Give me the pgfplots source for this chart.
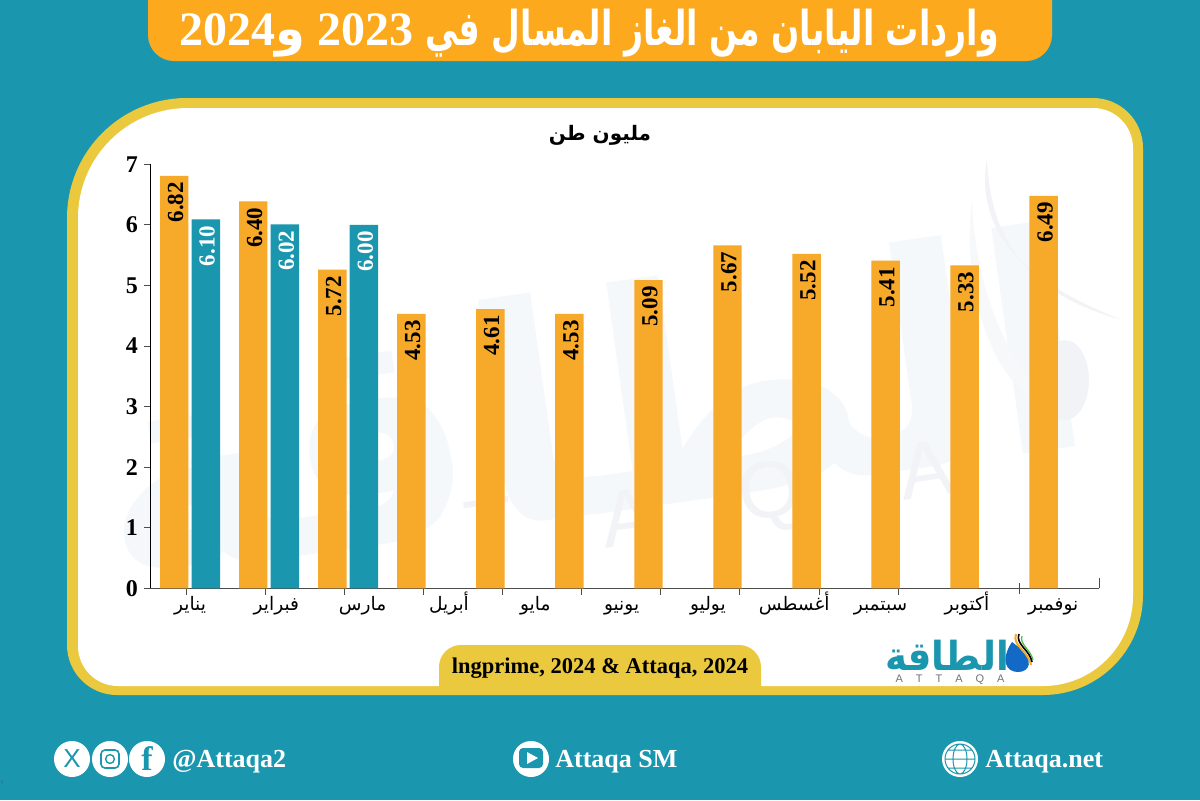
\documentclass[border=0pt]{standalone}
\usepackage{fontspec}
\usepackage{pgfplots}
\usepackage{pgfplotstable}
\pgfplotsset{compat=1.18}
\setmainfont{Liberation Serif}
\newfontfamily\arabicfont[Script=Arabic]{DejaVu Sans}
\newfontfamily\sansfont{Liberation Sans}
\TeXXeTstate=1
\definecolor{teal}{RGB}{26,151,174}
\definecolor{orange}{RGB}{247,169,42}
\definecolor{titleor}{RGB}{253,169,30}
\definecolor{gold}{RGB}{235,201,63}
\definecolor{wm}{RGB}{245,248,251}
\definecolor{wmg}{RGB}{241,243,246}
\newcommand{\ar}[1]{{\arabicfont\beginR #1\endR}}
\newcommand{\fs}[1]{\fontsize{#1}{#1}\selectfont}

% bar height, printed label (March 2023 bar is drawn lower than its label says)
\pgfplotstableread{
k v lab
0 6.81 6.82
1 6.39 6.40
2 5.26 5.72
3 4.53 4.53
4 4.61 4.61
5 4.53 4.53
6 5.09 5.09
7 5.66 5.67
8 5.52 5.52
9 5.41 5.41
10 5.33 5.33
11 6.48 6.49
}\tblA
\pgfplotstableread{
k v lab
0 6.09 6.10
1 6.01 6.02
2 6.00 6.00
}\tblB

\begin{document}
\begin{tikzpicture}[x=0.5pt,y=-0.5pt]
\path[use as bounding box] (0,0) rectangle (1200,800);
\fill[teal] (0,0) rectangle (1200,800);

% title tab
\fill[titleor] (600,0) -- (148,0) [rounded corners=13pt] -- (148,61) -- (1052,61) [sharp corners] -- (1052,0) -- cycle;
\node[text=white,font=\bfseries\fs{24}] at (589,33)
  {2024\ar{و} 2023 \scalebox{0.69}[1]{\ar{واردات اليابان من الغاز المسال في}}};

% panel
\fill[gold] (67,400) [rounded corners=60pt] -- (67,98) [rounded corners=25pt] -- (1143,98) [rounded corners=50pt] -- (1143,695) [rounded corners=25pt] -- (67,695) -- cycle;
\fill[white] (78,400) [rounded corners=55pt] -- (78,108) [rounded corners=20pt] -- (1133,108) [rounded corners=45pt] -- (1133,686) [rounded corners=20pt] -- (78,686) -- cycle;

% watermark
\node[text=wm,font=\bfseries\fs{150},rotate=8] at (590,400) {\ar{الطاقة}};
\foreach \xx/\yy/\ch in {490/527/T,628/518/A,770/497/Q,926/470/A}
  \node[text=wmg,font=\sansfont\fs{40},rotate=8] at (\xx,\yy) {\ch};
\fill[wmg] (987,158) .. controls (975,230) and (1020,280) .. (1122,320) .. controls (1050,300) and (990,260) .. (987,158) -- cycle;
\fill[wmg!60] (972,200) .. controls (975,300) and (1020,400) .. (1080,410) .. controls (1000,420) and (960,300) .. (972,200) -- cycle;
\fill[wmg] (1065,380) ellipse (12pt and 20pt);

% source tab
\fill[gold] (600,690) -- (439,690) [rounded corners=11pt] -- (439,645) -- (761,645) [sharp corners] -- (761,690) -- cycle;
\node[font=\bfseries\fs{11.25}] at (600,668) {lngprime, 2024 \& Attaqa, 2024};

\coordinate (o) at (150.5,588.3);
\begin{axis}[
  at={(o)}, anchor=south west,
  scale only axis,
  width=474.25pt, height=212pt,
  xmin=-0.5, xmax=11.5, ymin=0, ymax=7,
  axis x line=bottom, axis y line=left,
  axis line style={-,line width=0.5pt},
  x axis line style={black!70},
  ybar,
  clip=false,
  ytick={0,1,2,3,4,5,6,7},
  xtick={-0.042,0.958,1.958,2.958,3.958,4.958,5.958,6.958,7.958,8.958},
  xticklabels={},
  tick align=outside,
  major tick length=3.3pt,
  tick style={black!70,line width=0.5pt},
  /pgf/number format/assume math mode=true,
  yticklabel style={font=\bfseries\fs{12},xshift=0.5pt},
  extra x ticks={0,1.092,2.184,3.276,4.368,5.46,6.552,7.644,8.736,9.828,10.92},
  extra x tick style={major tick length=0pt,xticklabel style={font=\arabicfont\fs{9.3},text height=7pt,text depth=3pt,inner sep=0pt,yshift=-4pt}},
  extra x tick labels={\ar{يناير},\ar{فبراير},\ar{مارس},\ar{أبريل},\ar{مايو},\ar{يونيو},\ar{يوليو},\ar{أغسطس},\ar{سبتمبر},\ar{أكتوبر},\ar{نوفمبر}},
  point meta=explicit symbolic,
  nodes near coords,
  every node near coord/.append style={font=\bfseries\fs{11.5},yshift=-3pt,xshift=0.7pt,rotate=90,anchor=east,inner sep=0pt},
]
\addplot[fill=orange,draw=none,bar width=14.2pt,bar shift=-7.9pt] table[x=k,y=v,meta=lab] {\tblA};
\addplot[fill=teal,draw=none,bar width=14.2pt,bar shift=7.9pt,nodes near coords style={text=white}] table[x=k,y=v,meta=lab] {\tblB};
\draw[black!70,line width=0.5pt] (axis cs:10.5,-0.09) -- (axis cs:10.5,0.09);
\draw[black!70,line width=0.5pt] (axis cs:11.5,0) -- (axis cs:11.5,0.17);
\end{axis}

\node[font=\arabicfont\bfseries\fs{10}] at (600,135) {\ar{مليون طن}};

% logo
\node[text=teal,font=\arabicfont\bfseries\fs{20}] at (947,655) {\scalebox{0.93}[1]{\ar{الطاقة}}};
\node[text=black!55,font=\sansfont\fs{5.5}] at (950,680) {A\hspace{6.5pt}T\hspace{6.5pt}T\hspace{6.5pt}A\hspace{6.5pt}Q\hspace{6.5pt}A};
\fill[teal!70!blue] (1012,642) .. controls (1000,660) and (1006,672) .. (1018,672) .. controls (1030,672) and (1034,660) .. (1020,648) -- cycle;
\draw[orange,line width=1pt] (1016,634) .. controls (1012,646) and (1028,650) .. (1031,665);
\draw[black,line width=0.8pt] (1019,634) .. controls (1015,644) and (1030,650) .. (1032,662);
\draw[green!60!black!70,line width=0.6pt] (1022,636) .. controls (1019,644) and (1031,650) .. (1033,660);

% footer
\foreach \cx in {72,110,147,531,960} \fill[white] (\cx,759) circle (9pt);
\node[text=teal,font=\sansfont\fs{13}] at (72,759) {X};
\draw[teal,line width=0.8pt,rounded corners=2pt] (101,750) rectangle (119,768);
\draw[teal,line width=0.7pt] (110,759) circle (2.2pt);
\node[text=teal,font=\bfseries\fs{17}] at (147,759) {f};
\fill[teal,rounded corners=2pt] (519,748) rectangle (543,768);
\fill[white] (527,752) -- (538,758) -- (527,764) -- cycle;
\draw[teal,line width=0.5pt] (960,759) circle (7.5pt) (960,759) ellipse (3.5pt and 7.5pt) (945,759) -- (975,759) (948,750) -- (972,750) (948,768) -- (972,768);
\node[text=white,font=\bfseries\fs{13},anchor=west,inner sep=0pt] at (172,762) {@Attaqa2};
\node[text=white,font=\bfseries\fs{13},anchor=west,inner sep=0pt] at (555,762) {Attaqa SM};
\node[text=white,font=\bfseries\fs{13},anchor=west,inner sep=0pt] at (985,762) {Attaqa.net};
\node[text=black!70,font=\fs{3},inner sep=0pt] at (2,783) {!};
\end{tikzpicture}
\end{document}
